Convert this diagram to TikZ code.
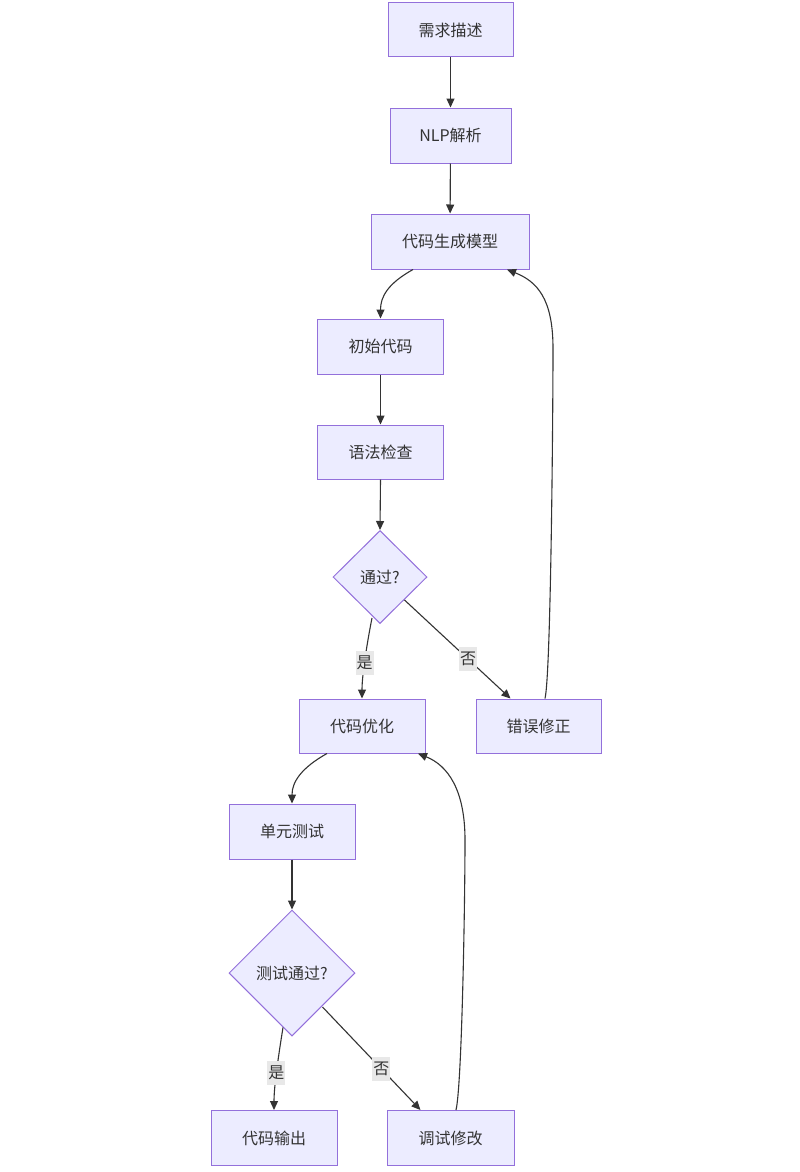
\documentclass[tikz,border=0pt]{standalone}
\usepackage{fontspec}
\setmainfont{Noto Sans CJK SC}
\usetikzlibrary{shapes.geometric,arrows.meta}
\definecolor{nodefill}{HTML}{ECECFF}
\definecolor{nodeline}{HTML}{9370DB}
\definecolor{edgecol}{HTML}{333333}
\definecolor{lblbg}{HTML}{E8E8E8}
\begin{document}
\begin{tikzpicture}[x=1pt,y=-1pt,
  box/.style={draw=nodeline,fill=nodefill,line width=1pt,minimum height=55pt,minimum width=126pt,inner sep=0pt,font=\fontsize{16}{19}\selectfont,text=edgecol},
  dec/.style={diamond,aspect=1,draw=nodeline,fill=nodefill,line width=1pt,inner sep=0pt,font=\fontsize{16}{19}\selectfont,text=edgecol},
  conn/.style={draw=edgecol,line width=1.1pt,-{Triangle[length=9pt,width=8pt]}},
  lbl/.style={fill=lblbg,inner sep=0pt,minimum width=18pt,minimum height=24pt,font=\fontsize{16}{19}\selectfont,text=edgecol}]
\useasboundingbox (0,0) rectangle (800,1172);
\fill[white] (0,0) rectangle (800,1172);
\node[box,minimum width=125pt,minimum height=54pt] (req) at (450.5,30) {需求描述};
\node[box,minimum width=121pt] (nlp) at (450.5,135.5) {NLP解析};
\node[box,minimum width=158pt] (gen) at (450,241.5) {代码生成模型};
\node[box] (init) at (380.5,346.5) {初始代码};
\node[box,minimum height=54pt] (syn) at (380.5,452) {语法检查};
\node[dec,minimum width=94pt,minimum height=93pt] (pass) at (380,577) {通过?};
\node[box,minimum height=54pt] (opt) at (362,726) {代码优化};
\node[box,minimum width=125pt,minimum height=54pt] (err) at (538.5,726) {错误修正};
\node[box] (unit) at (292,831.5) {单元测试};
\node[dec,minimum width=126pt,minimum height=126pt] (tpass) at (292,973) {测试通过?};
\node[box] (out) at (274,1138) {代码输出};
\node[box,minimum width=127pt] (dbg) at (450.5,1138) {调试修改};

\draw[conn] (req) -- (nlp);
\draw[conn] (nlp) -- (gen);
\draw[conn] ([xshift=-37pt]gen.south) .. controls +(-25,14) and +(0,-22) .. (init.north);
\draw[conn] (init) -- (syn);
\draw[conn] (syn.south) -- (pass.north);
\draw[conn] ([xshift=-8pt,yshift=6pt]pass.south) .. controls +(-4,20) and +(0,-25) .. node[lbl,pos=0.57] (lyes1) {是} (opt.north);
\draw[conn] ([xshift=-23pt,yshift=-23pt]pass.east) -- node[lbl,pos=0.6] (lno1) {否} ([xshift=-28pt]err.north);
\draw[conn] ([xshift=6.5pt]err.north) .. controls +(6,-25) and +(0,60) .. ([xshift=14.5pt,yshift=350pt]err.north) .. controls +(0,-50) and +(30,12) .. ([xshift=57pt]gen.south);
\draw[conn] ([xshift=-35pt]opt.south) .. controls +(-25,14) and +(0,-22) .. (unit.north);
\draw[conn] (unit.south) -- (tpass.north);
\draw[conn] ([xshift=-9pt,yshift=9pt]tpass.south) .. controls +(-4,25) and +(0,-25) .. node[lbl,pos=0.55] (lyes2) {是} (out.north);
\draw[conn] ([xshift=-33pt,yshift=-34pt]tpass.east) -- node[lbl,pos=0.6] (lno2) {否} ([xshift=-30pt]dbg.north);
\draw[conn] ([xshift=5.5pt]dbg.north) .. controls +(6,-25) and +(0,60) .. ([xshift=14.5pt,yshift=270pt]dbg.north) .. controls +(0,-50) and +(30,12) .. ([xshift=56pt]opt.south);
\end{tikzpicture}
\end{document}
